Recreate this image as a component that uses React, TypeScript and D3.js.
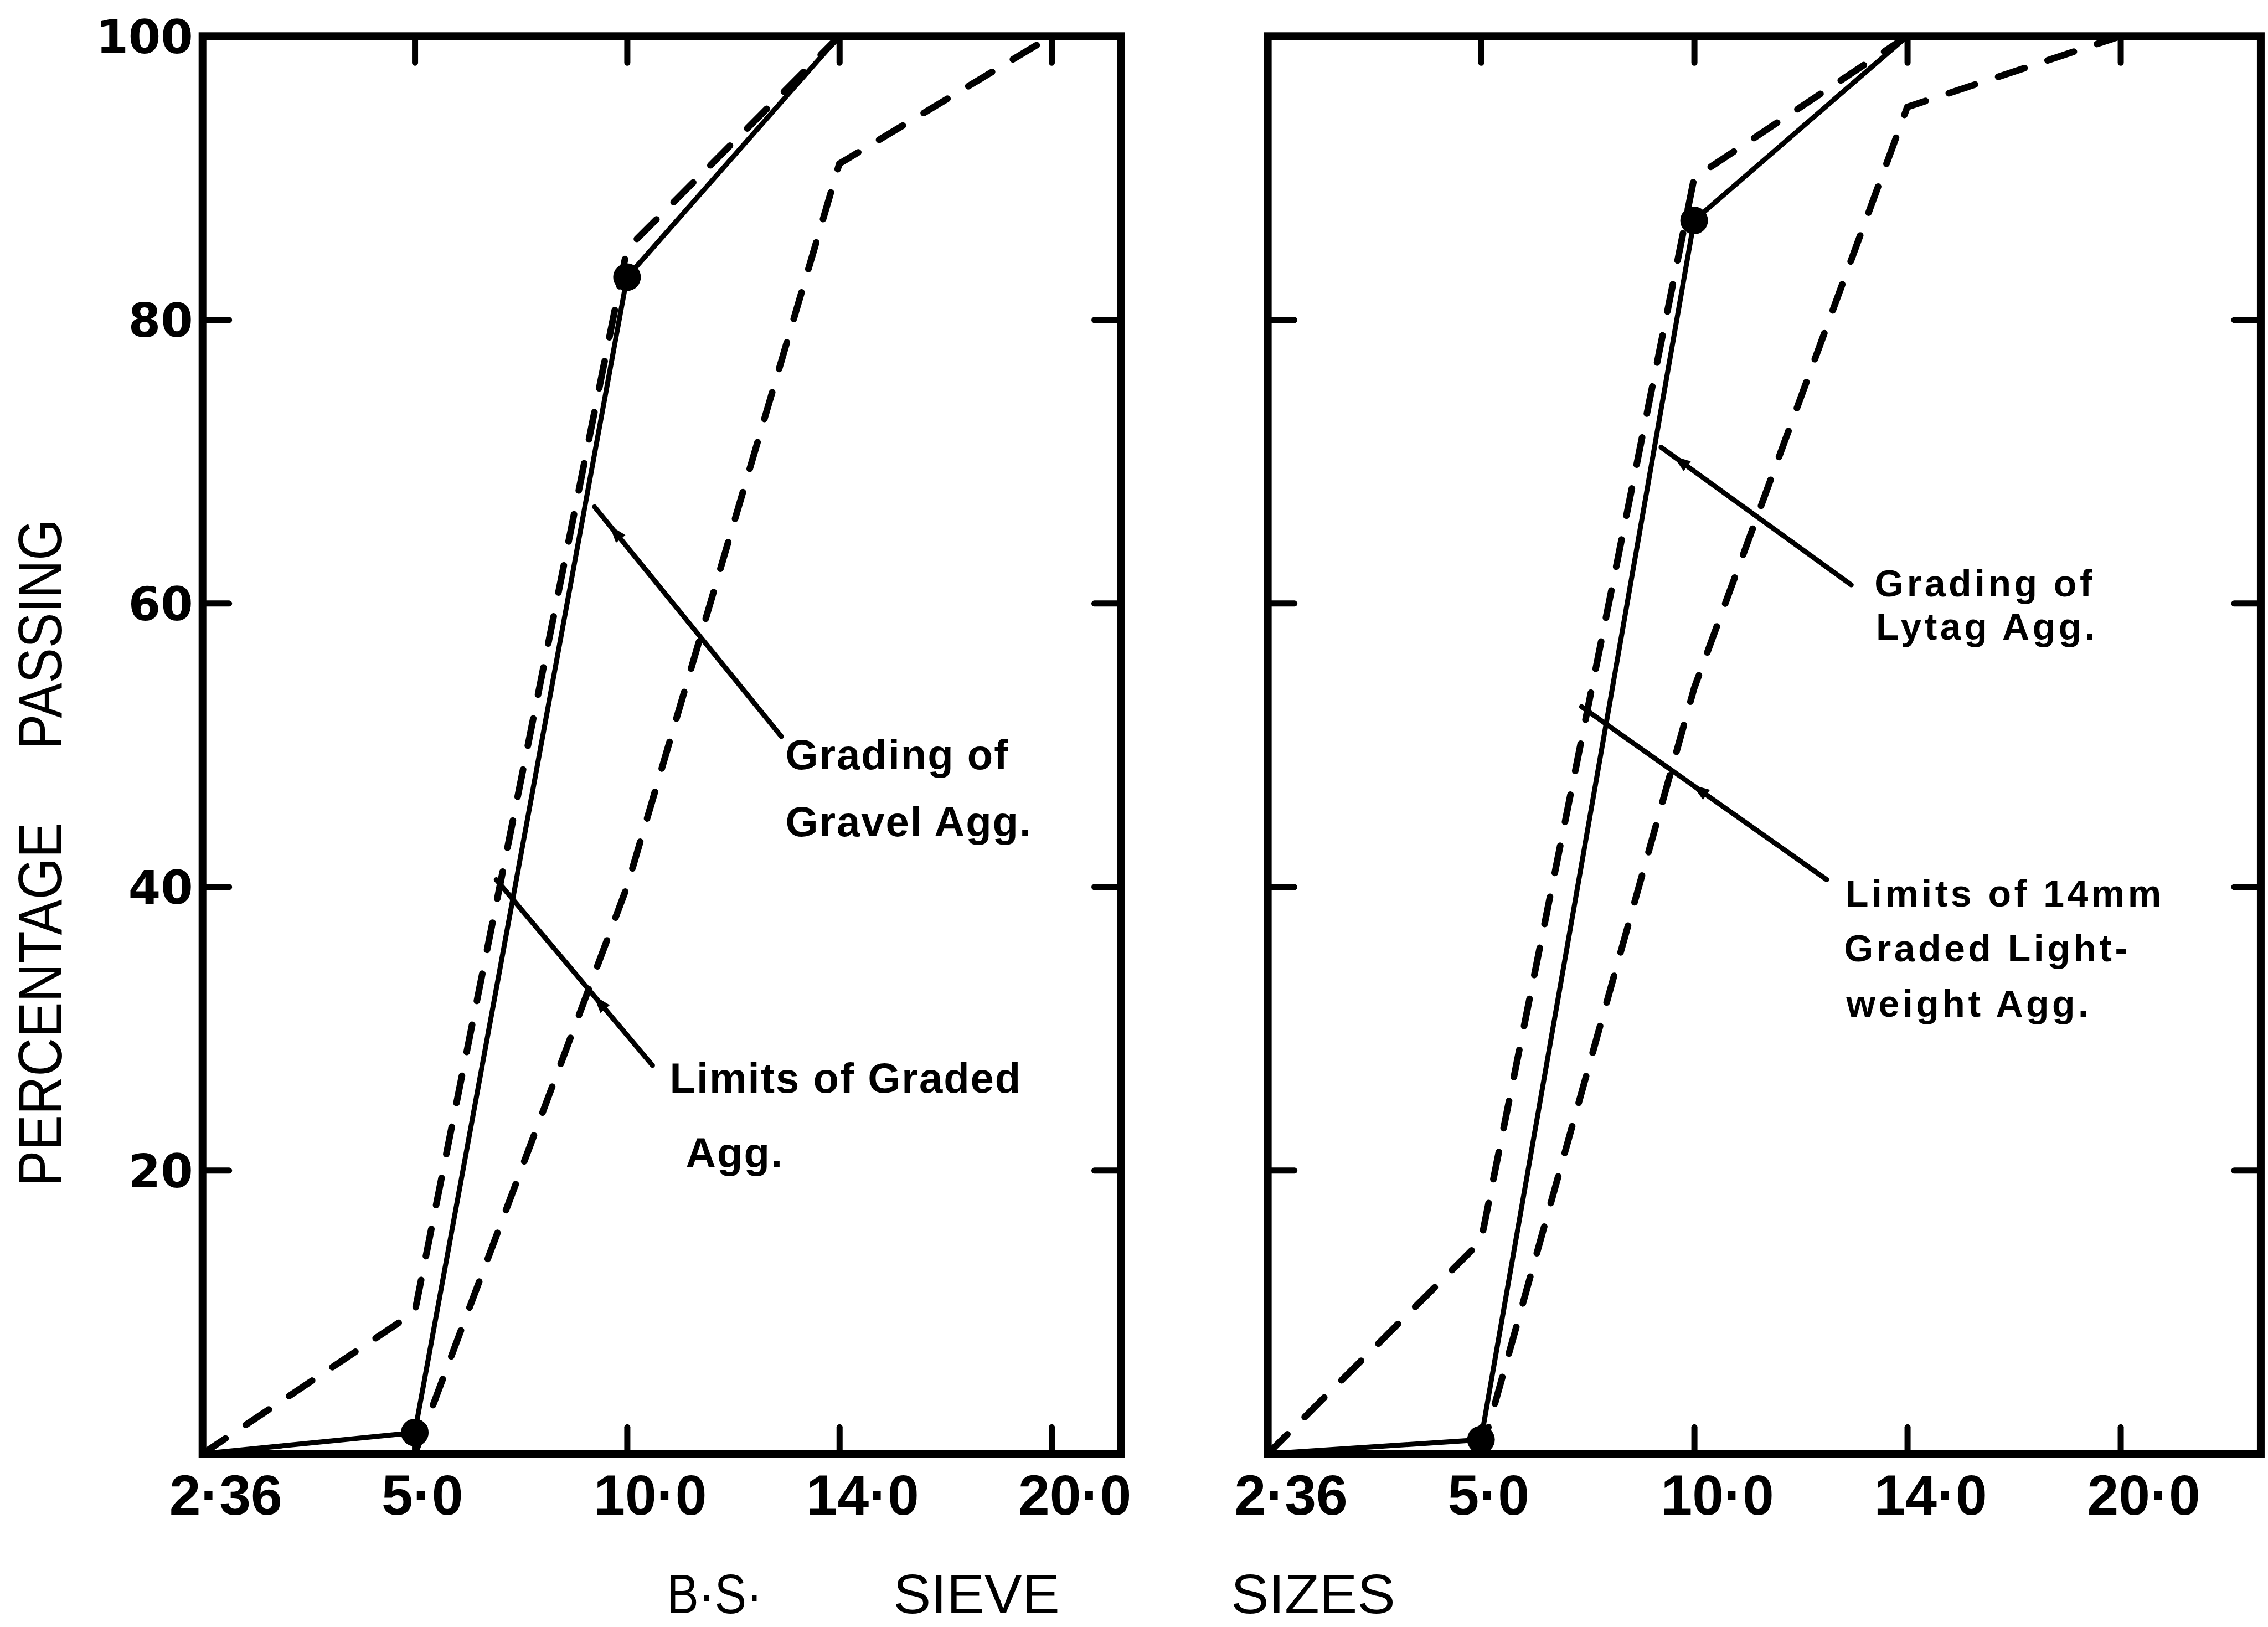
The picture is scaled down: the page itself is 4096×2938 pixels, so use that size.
import React, { useEffect, useRef } from 'react'
import { select, scalePoint, scaleLinear, line, axisBottom, axisTop, axisLeft, axisRight } from 'd3'

// sieve sizes (mm) along the bottom, one category each
const sieveSizes = ['2·36', '5·0', '10·0', '14·0', '20·0']
const percentLabels = [20, 40, 60, 80, 100]
const percentTicks = [20, 40, 60, 80]

// left panel: gravel aggregate, % passing per sieve (null = not drawn)
const gravelGrading = [0, 1.5, 83, 100, null]
const gravelUpper = [0, 10, 85, 100, null]
const gravelLower = [null, 0, 40, 91, 100]

// right panel: lytag aggregate
const lytagGrading = [0, 1, 87, 100, null]
const lytagUpper = [0, 15, 90, 100, null]
const lytagLower = [null, 0, 54, 95, 100]

// sieves where the measured grading is marked with a dot
const gradingDots = ['5·0', '10·0']

const gravelNotes = [['Grading of', 'Gravel Agg.'], ['Limits of Graded', 'Agg.']]
const lytagNotes = [['Grading of', 'Lytag Agg.'], ['Limits of 14mm', 'Graded Light-', 'weight Agg.']]

const xTitle = ['B·S·', 'SIEVE', 'SIZES']
const yTitle = ['PERCENTAGE', 'PASSING']

const W = 4096
const H = 2938
const k = W / 1568 // layout below is measured on a 1568 wide copy
const yTop = 25 * k
const yBottom = 1005 * k
const tickLen = 48
const font = '"Liberation Sans", Arial, Helvetica, sans-serif'

const y = scaleLinear().domain([0, 100]).range([yBottom, yTop])

// leader layout in data space: [sieve index (fractional), % passing]
// wedge = where along the leader the little arrow head sits
const panels = [
    {
        x0: 140, x1: 727, frameRight: 775,
        grading: gravelGrading, upper: gravelUpper, lower: gravelLower,
        notes: gravelNotes, showPercent: true,
        noteFont: 76, noteSpacing: 2,
        leaders: [
            { from: [1.847, 66.8], to: [2.727, 50.6], text: [2.746, 48.3], gap: 46.5, indent: [0, 0], wedge: 0.11 },
            { from: [1.384, 40.5], to: [2.12, 27.4], text: [2.201, 25.5], gap: 52, indent: [0, 11], wedge: 0.66 },
        ],
    },
    {
        x0: 876.5, x1: 1466, frameRight: 1563,
        grading: lytagGrading, upper: lytagUpper, lower: lytagLower,
        notes: lytagNotes, showPercent: false,
        noteFont: 68, noteSpacing: 5.5,
        leaders: [
            { from: [1.845, 71], to: [2.737, 61.3], text: [2.846, 60.5], gap: 30, indent: [0, 1], wedge: 0.1 },
            { from: [1.472, 52.7], to: [2.622, 40.5], text: [2.71, 38.6], gap: 38, indent: [0, -1, 0.5], wedge: 0.48 },
        ],
    },
]

export default function App() {

    const chart = useRef<SVGSVGElement>(null)

    const drawPanel = (svg, p) => {
        const x = scalePoint<string>().domain(sieveSizes).range([p.x0 * k, p.x1 * k])
        const xl = x(sieveSizes[0])
        const xr = p.frameRight * k
        const xAt = (i: number) => xl + i * x.step()
        const g = svg.append('g')

        // frame
        g.append('rect')
            .attr('x', xl).attr('y', yTop)
            .attr('width', xr - xl).attr('height', yBottom - yTop)
            .attr('fill', 'none').attr('stroke', '#000').attr('stroke-width', 14)

        // inward ticks on all four sides
        const tickStyle = a => {
            a.select('.domain').remove()
            a.selectAll('line').attr('stroke', '#000').attr('stroke-width', 11).attr('stroke-linecap', 'round')
        }
        const xt = sieveSizes.slice(1)
        g.append('g').attr('transform', `translate(0,${yBottom})`)
            .call(axisBottom(x).tickValues(xt).tickSize(-tickLen).tickFormat(() => ''))
            .call(tickStyle)
        g.append('g').attr('transform', `translate(0,${yTop})`)
            .call(axisTop(x).tickValues(xt).tickSize(-tickLen).tickFormat(() => ''))
            .call(tickStyle)
        g.append('g').attr('transform', `translate(${xl},0)`)
            .call(axisLeft(y).tickValues(percentTicks).tickSize(-tickLen).tickFormat(() => ''))
            .call(tickStyle)
        g.append('g').attr('transform', `translate(${xr},0)`)
            .call(axisRight(y).tickValues(percentTicks).tickSize(-tickLen).tickFormat(() => ''))
            .call(tickStyle)

        // sieve labels
        g.selectAll('text.sieve').data(sieveSizes).join('text')
            .attr('class', 'sieve')
            .attr('x', d => x(d) - 23 * k)
            .attr('y', yBottom + 42 * k)
            .attr('font-family', font).attr('font-weight', 'bold').attr('font-size', 102)
            .text(d => d)

        if (p.showPercent) {
            g.selectAll('text.pct').data(percentLabels).join('text')
                .attr('class', 'pct')
                .attr('x', 133.5 * k)
                .attr('y', d => y(d))
                .attr('dy', '0.36em')
                .attr('text-anchor', 'end')
                .attr('font-family', '"DejaVu Sans", sans-serif').attr('font-weight', 'bold').attr('font-size', 84)
                .text(d => d)
        }

        const path = line<number | null>()
            .defined(d => d != null)
            .x((d, i) => x(sieveSizes[i]))
            .y(d => y(d))

        const drawSeries = (values, dashed) => g.append('path')
            .datum(values)
            .attr('fill', 'none')
            .attr('stroke', '#000')
            .attr('stroke-width', dashed ? 12 : 9)
            .attr('stroke-linejoin', 'round')
            .attr('stroke-linecap', 'round')
            .attr('stroke-dasharray', dashed ? '50 44' : null)
            .attr('d', path)

        drawSeries(p.upper, true)
        drawSeries(p.lower, true)
        drawSeries(p.grading, false)

        g.selectAll('circle').data(gradingDots).join('circle')
            .attr('cx', d => x(d))
            .attr('cy', d => y(p.grading[sieveSizes.indexOf(d)]))
            .attr('r', 25)
            .attr('fill', '#000')

        // leaders and their notes
        p.leaders.forEach((ld, n) => {
            const x1 = xAt(ld.from[0]), y1 = y(ld.from[1])
            const x2 = xAt(ld.to[0]), y2 = y(ld.to[1])
            g.append('line')
                .attr('x1', x1).attr('y1', y1).attr('x2', x2).attr('y2', y2)
                .attr('stroke', '#000').attr('stroke-width', 9).attr('stroke-linecap', 'round')

            // small arrow head pointing back to the curve
            const ang = Math.atan2(y1 - y2, x1 - x2) * 180 / Math.PI
            const wx = x1 + (x2 - x1) * ld.wedge
            const wy = y1 + (y2 - y1) * ld.wedge
            g.append('path')
                .attr('d', 'M16,0 L-16,-11 L-16,11 Z')
                .attr('transform', `translate(${wx},${wy}) rotate(${ang})`)
                .attr('fill', '#000')

            const t = g.append('text')
                .attr('font-family', font).attr('font-weight', 'bold')
                .attr('font-size', p.noteFont).attr('letter-spacing', p.noteSpacing)
            p.notes[n].forEach((s, j) => {
                t.append('tspan')
                    .attr('x', xAt(ld.text[0]) + (ld.indent[j] || 0) * k)
                    .attr('y', y(ld.text[1]) + j * ld.gap * k)
                    .text(s)
            })
        })
    }

    const drawTitles = svg => {
        const yPos = [694.2, 438.5]
        const yLen = [251.5, 159]
        yTitle.forEach((s, i) => {
            svg.append('text')
                .attr('transform', `translate(${42.6 * k},${yPos[i] * k}) rotate(-90)`)
                .attr('text-anchor', 'middle')
                .attr('font-family', font).attr('font-size', 112)
                .attr('textLength', yLen[i] * k).attr('lengthAdjust', 'spacingAndGlyphs')
                .text(s)
        })
        const xPos = [461, 617.6, 851]
        const xLen = [66, 115, 113.6]
        xTitle.forEach((s, i) => {
            svg.append('text')
                .attr('x', xPos[i] * k).attr('y', 1115 * k)
                .attr('font-family', font).attr('font-size', 100)
                .attr('textLength', xLen[i] * k).attr('lengthAdjust', 'spacingAndGlyphs')
                .text(s)
        })
    }

    useEffect(() => {
        const svg = select(chart.current)
        svg.selectAll('*').remove()
        panels.forEach(p => drawPanel(svg, p))
        drawTitles(svg)
    }, [])

    return (
        <svg ref={chart} width={W} height={H} viewBox={`0 0 ${W} ${H}`}
            style={{ position: 'absolute', left: 0, top: 0, background: '#fff' }} />
    )
}
